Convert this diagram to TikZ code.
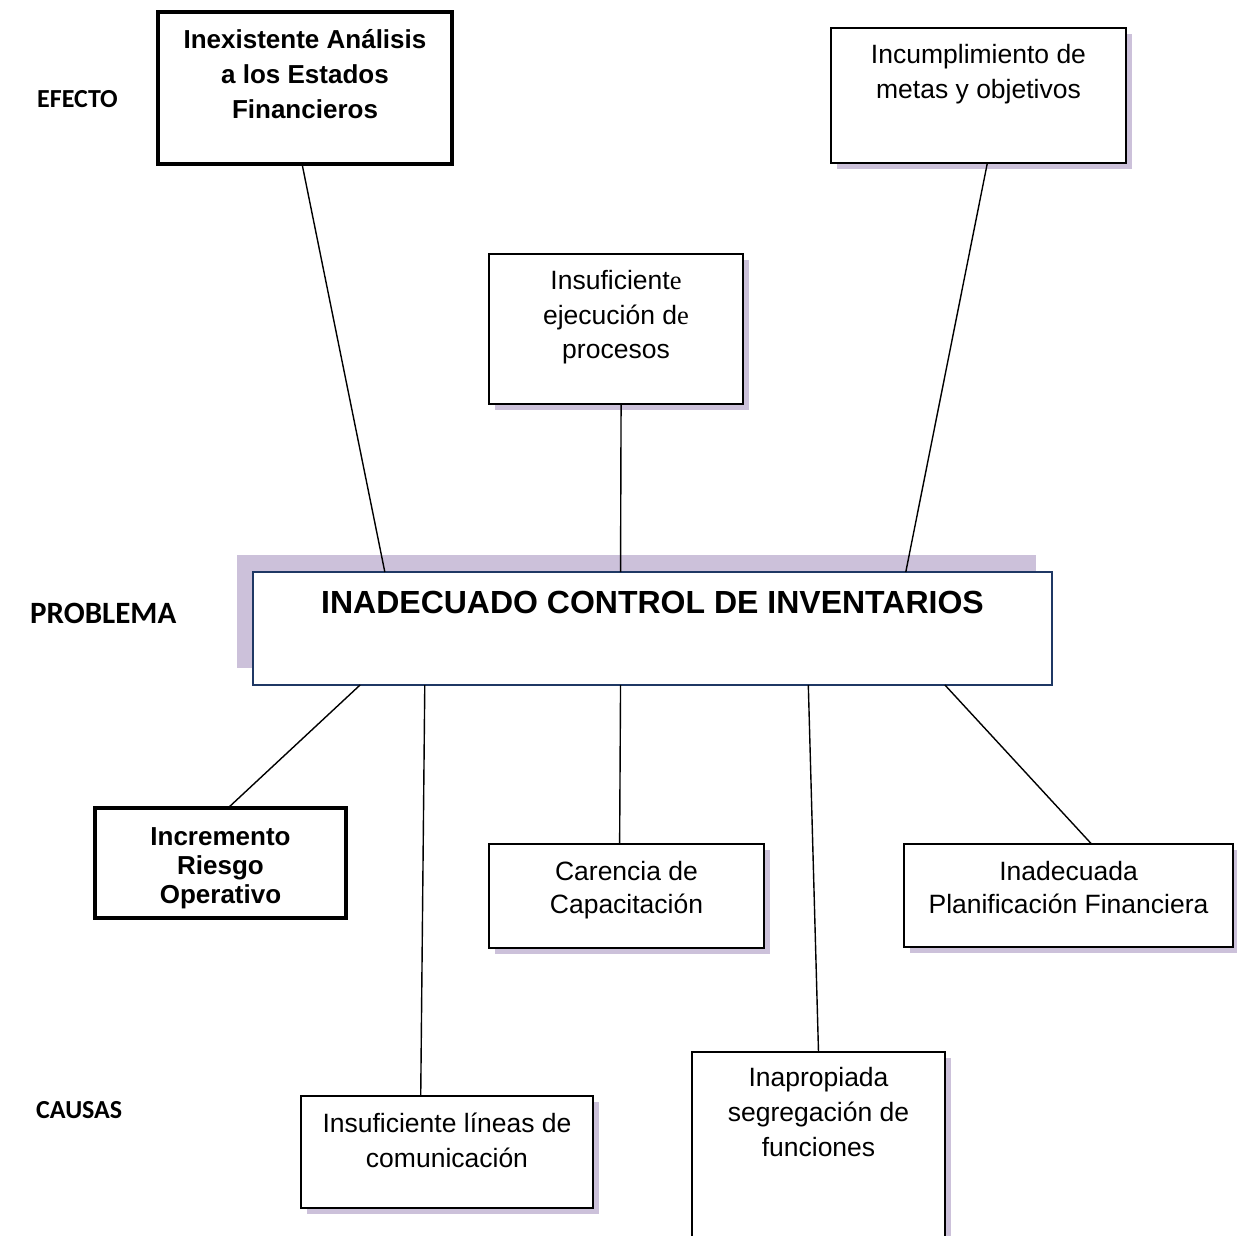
\documentclass[tikz,border=0pt]{standalone}
\usepackage{fontspec}
\setmainfont{Liberation Sans}
\newfontfamily\carlito{Carlito}
\newfontfamily\serifa{Liberation Serif}
\usepackage{tikz}
\usetikzlibrary{calc,shadows}
\definecolor{sombra}{RGB}{204,193,218}
\definecolor{marino}{RGB}{31,56,100}
\tikzstyle{caja} = [draw, line width=1.5pt, fill=white, inner sep=0pt, outer sep=0pt, anchor=north west, font=\fontsize{26.5}{35}\selectfont, drop shadow={shadow xshift=6pt, shadow yshift=-6pt, fill=sombra, opacity=1}]
\tikzstyle{cajagruesa} = [draw, line width=4pt, fill=white, inner sep=0pt, outer sep=0pt, anchor=north west, font=\bfseries\fontsize{26}{35}\selectfont]
\tikzstyle{problema} = [draw=marino, line width=1.5pt, fill=white, inner sep=0pt, outer sep=0pt, anchor=north west, font=\bfseries\fontsize{32}{38}\selectfont, drop shadow={shadow xshift=-16pt, shadow yshift=17pt, fill=sombra, opacity=1}]
\tikzstyle{rotulo} = [anchor=base west, inner sep=0pt, font=\carlito\bfseries\fontsize{26}{30}\selectfont]
\tikzstyle{conector} = [line width=1.4pt]

\begin{document}
\begin{tikzpicture}[x=1pt,y=-1pt]
	\useasboundingbox (0,0) rectangle (1237,1235);
	% rotulos
	\node[rotulo] (efecto) at (37,107) {EFECTO};
	\node[rotulo, font=\carlito\bfseries\fontsize{31}{36}\selectfont] (prob) at (30,623) {PROBLEMA};
	\node[rotulo] (causas) at (36,1118) {CAUSAS};
	% efectos
	\node[cajagruesa] (efecto1) at (158,12) {
		\begin{minipage}[t][152pt][t]{294pt}\centering\vspace*{11.5pt}
			\strut Inexistente Análisis\\a los Estados\\Financieros
		\end{minipage}};
	\node[caja] (efecto2) at (831,28) {
		\begin{minipage}[t][135pt][t]{295pt}\centering\vspace*{10.5pt}
			\strut Incumplimiento de\\metas y objetivos
		\end{minipage}};
	\node[caja, font=\fontsize{26.5}{34.5}\selectfont] (efecto3) at (489,254) {
		\begin{minipage}[t][150pt][t]{254pt}\centering\vspace*{11.8pt}
			\strut Insuficient{\serifa e}\\ejecución d{\serifa e}\\procesos
		\end{minipage}};
	% problema
	\node[problema] (problema) at (253,572) {
		\begin{minipage}[t][113pt][t]{799pt}\centering\vspace*{14.4pt}
			\strut INADECUADO CONTROL DE INVENTARIOS
		\end{minipage}};
	% causas
	\node[cajagruesa, font=\bfseries\fontsize{26}{29}\selectfont] (causa1) at (95,808) {
		\begin{minipage}[t][110pt][t]{251pt}\centering\vspace*{16.7pt}
			\strut Incremento\\Riesgo\\Operativo
		\end{minipage}};
	\node[caja, font=\fontsize{26.5}{33}\selectfont] (causa2) at (489,844) {
		\begin{minipage}[t][104pt][t]{275pt}\centering\vspace*{12.9pt}
			\strut Carencia de\\Capacitación
		\end{minipage}};
	\node[caja, font=\fontsize{26.5}{33}\selectfont] (causa3) at (904,844) {
		\begin{minipage}[t][103pt][t]{329pt}\centering\vspace*{12.9pt}
			\strut Inadecuada\\Planificación Financiera
		\end{minipage}};
	\node[caja] (causa4) at (301,1096) {
		\begin{minipage}[t][112pt][t]{292pt}\centering\vspace*{11.5pt}
			\strut Insuficiente líneas de\\comunicación
		\end{minipage}};
	\node[caja] (causa5) at (692,1052) {
		\begin{minipage}[t][200pt][t]{253pt}\centering\vspace*{9.5pt}
			\strut Inapropiada\\segregación de\\funciones
		\end{minipage}};
	% conectores
	\draw[conector] ($(efecto1.south west)!0.49!(efecto1.south east)$) -- ($(problema.north west)!0.165!(problema.north east)$);
	\draw[conector] ($(efecto3.south west)!0.52!(efecto3.south east)$) -- ($(problema.north west)!0.46!(problema.north east)$);
	\draw[conector] ($(efecto2.south west)!0.53!(efecto2.south east)$) -- ($(problema.north west)!0.817!(problema.north east)$);
	\draw[conector] ($(problema.south west)!0.134!(problema.south east)$) -- ($(causa1.north west)!0.53!(causa1.north east)$);
	\draw[conector] ($(problema.south west)!0.215!(problema.south east)$) -- ($(causa4.north west)!0.41!(causa4.north east)$);
	\draw[conector] ($(problema.south west)!0.46!(problema.south east)$) -- ($(causa2.north west)!0.475!(causa2.north east)$);
	\draw[conector] ($(problema.south west)!0.695!(problema.south east)$) -- ($(causa5.north west)!0.5!(causa5.north east)$);
	\draw[conector] ($(problema.south west)!0.866!(problema.south east)$) -- ($(causa3.north west)!0.57!(causa3.north east)$);
\end{tikzpicture}
\end{document}
